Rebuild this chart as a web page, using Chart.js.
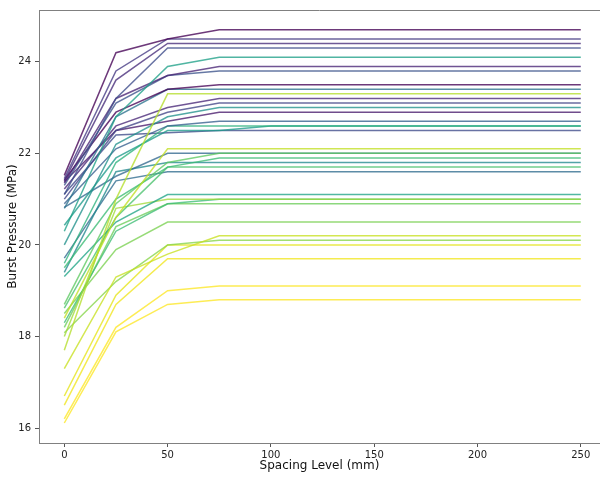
<!DOCTYPE html>
<html><head><meta charset="utf-8">
<script src="https://cdn.jsdelivr.net/npm/chart.js@4"></script>
<style>html,body{margin:0;padding:0;background:#fff;} canvas{display:block;}</style>
</head><body>
<canvas id="c" width="600" height="477"></canvas>
<script>
// Spacing levels (mm) at which each burst-pressure curve is sampled
const spacingLevels = [0, 25, 50, 75, 100, 250];

// Burst pressure (MPa) of each curve at each spacing level
const pressureAt0   = [21.52,21.45,21.40,21.10,20.30,21.35,21.30,21.42,20.80,17.70,21.22,21.00,20.00,21.38,20.90,19.60,20.43,21.11,18.40,18.70,20.82,19.50,19.40,18.62,19.71,19.31,18.00,18.30,18.20,18.50,17.30,18.08,16.70,16.50,16.20,16.11];
const pressureAt25  = [24.20,23.80,23.60,23.20,22.80,23.20,23.10,22.90,22.80,21.00,22.60,22.50,22.20,22.50,22.10,21.80,21.90,22.40,20.60,20.90,21.50,21.00,21.60,20.60,21.40,20.50,20.80,20.30,20.40,19.90,19.30,19.20,18.90,18.70,18.20,18.10];
const pressureAt50  = [24.50,24.50,24.40,24.30,23.90,23.70,23.70,23.40,23.40,23.30,23.00,22.90,22.80,22.70,22.60,22.60,22.50,22.45,22.10,21.80,22.00,21.70,21.80,21.70,21.60,21.10,21.00,20.90,20.90,20.50,19.80,20.00,20.00,19.70,19.00,18.70];
const pressureAt75  = [24.70,24.50,24.40,24.30,24.10,23.90,23.80,23.50,23.40,23.30,23.20,23.10,23.00,22.90,22.70,22.60,22.50,22.50,22.10,22.00,22.00,21.90,21.80,21.70,21.60,21.10,21.00,21.00,20.90,20.50,20.20,20.10,20.00,19.70,19.10,18.80];
const pressureAt100 = [24.70,24.50,24.40,24.30,24.10,23.90,23.80,23.50,23.40,23.30,23.20,23.10,23.00,22.90,22.70,22.60,22.60,22.50,22.10,22.00,22.00,21.90,21.80,21.70,21.60,21.10,21.00,21.00,20.90,20.50,20.20,20.10,20.00,19.70,19.10,18.80];
const pressureAt250 = [24.70,24.50,24.40,24.30,24.10,23.90,23.80,23.50,23.40,23.30,23.20,23.10,23.00,22.90,22.70,22.60,22.60,22.50,22.10,22.00,22.00,21.90,21.80,21.70,21.60,21.10,21.00,21.00,20.90,20.50,20.20,20.10,20.00,19.70,19.10,18.80];

const xTickLabels = [0, 50, 100, 150, 200, 250];
const yTickLabels = [16, 18, 20, 22, 24];

// line colours (viridis)
const lineColors = ['#440154','#443983','#472c7a','#3e4c8a','#1fa088','#482475','#3b528b','#440154','#2c728e','#b5de2b','#482677','#414487','#21918c','#481a6c','#355f8d','#2db27d','#1e9b8a','#3e4a89','#c2df23','#5ec962','#31688e','#3bbb75','#23898e','#4ac16d','#2f6c8e','#20a486','#a0da39','#3dbc74','#6ccd5a','#7ad151','#c8e020','#86d549','#e5e419','#f1e51d','#fde725','#fde725'];

function withAlpha(hex, a) {
  const r = parseInt(hex.slice(1,3),16), g = parseInt(hex.slice(3,5),16), b = parseInt(hex.slice(5,7),16);
  return `rgba(${r},${g},${b},${a})`;
}

const columns = [pressureAt0, pressureAt25, pressureAt50, pressureAt75, pressureAt100, pressureAt250];
const datasets = pressureAt0.map((_, i) => ({
  data: spacingLevels.map((x, j) => ({x: x, y: columns[j][i]})),
  borderColor: withAlpha(lineColors[i], 0.78),
  borderWidth: 1.5,
  pointRadius: 0,
  tension: 0,
  fill: false
}));

const topSpine = {
  id: 'topSpine',
  afterDraw(chart) {
    const {ctx, chartArea: a} = chart;
    ctx.save();
    ctx.strokeStyle = '#808080';
    ctx.lineWidth = 1;
    ctx.beginPath();
    ctx.moveTo(a.left, a.top + 0.5);
    ctx.lineTo(a.right, a.top + 0.5);
    ctx.stroke();
    ctx.restore();
  }
};

const tickFont = {family: 'DejaVu Sans', size: 10};
const titleFont = {family: 'DejaVu Sans', size: 12};

new Chart(document.getElementById('c'), {
  type: 'line',
  data: {datasets: datasets},
  options: {
    responsive: false,
    animation: false,
    devicePixelRatio: 1,
    layout: {padding: {top: 6, left: 0, right: 0, bottom: 0}},
    plugins: {legend: {display: false}, tooltip: {enabled: false}},
    scales: {
      x: {
        type: 'linear',
        min: -12.25,
        max: 259.3,
        afterBuildTicks: s => { s.ticks = xTickLabels.map(v => ({value: v})); },
        afterFit: s => { s.height = 34; },
        grid: {drawOnChartArea: false, drawTicks: true, tickLength: 4, color: '#555'},
        border: {display: true, color: '#808080', width: 1},
        ticks: {font: tickFont, color: '#222', padding: 2, maxRotation: 0, autoSkip: false},
        title: {display: true, text: 'Spacing Level (mm)', font: titleFont, color: '#111', padding: {top: 0, bottom: 4}}
      },
      y: {
        type: 'linear',
        min: 15.673,
        max: 25.132,
        afterBuildTicks: s => { s.ticks = yTickLabels.map(v => ({value: v})); },
        afterFit: s => { s.width = 39; },
        grid: {drawOnChartArea: false, drawTicks: true, tickLength: 4, color: '#555'},
        border: {display: true, color: '#808080', width: 1},
        ticks: {font: tickFont, color: '#222', padding: 4, autoSkip: false},
        title: {display: true, text: 'Burst Pressure (MPa)', font: titleFont, color: '#111', padding: {top: 6, bottom: 0}}
      }
    }
  },
  plugins: [topSpine]
});
</script>
</body></html>
